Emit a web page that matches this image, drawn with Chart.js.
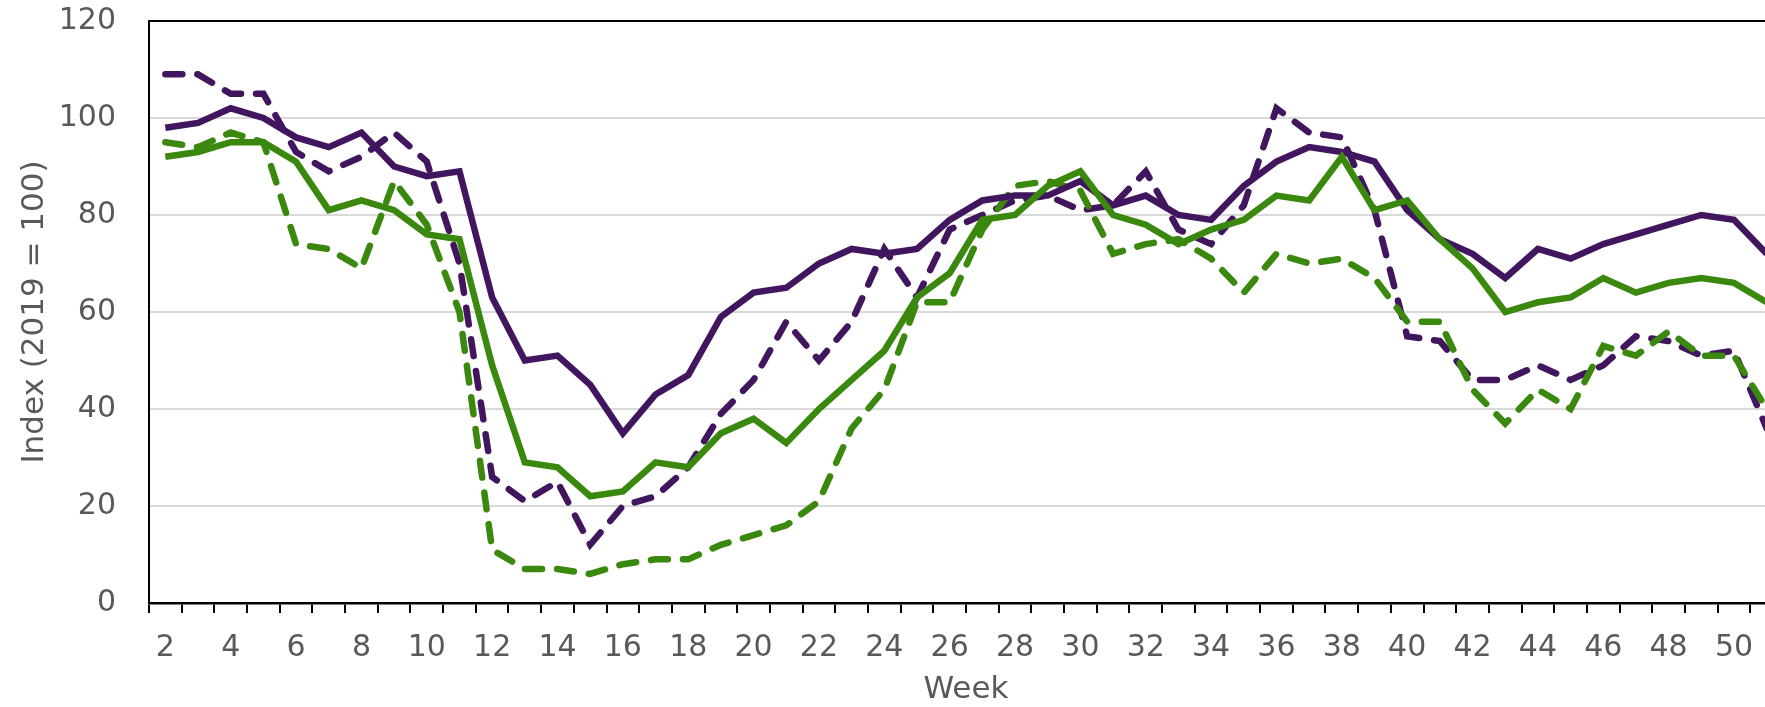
<!DOCTYPE html>
<html>
<head>
<meta charset="utf-8">
<script src="https://cdn.jsdelivr.net/npm/chart.js@4"></script>
<style>
  html, body { margin: 0; padding: 0; background: #fff; overflow: hidden; }
  /* the source chart runs slightly past the right edge of the picture */
  #wrap { position: absolute; left: 0; top: 0; width: 1790px; height: 707px; }
</style>
</head>
<body>
<div id="wrap"><canvas id="myChart"></canvas></div>
<script>
const weeks = [];
for (let w = 2; w <= 51; w++) weeks.push(w);

const purpleSolid = [98, 99, 102, 100, 96, 94, 97, 90, 88, 89, 63, 50, 51, 45, 35, 43, 47, 59, 64, 65,
  70, 73, 72, 73, 79, 83, 84, 84, 87, 82, 84, 80, 79, 86, 91, 94, 93, 91, 81, 75,
  72, 67, 73, 71, 74, 76, 78, 80, 79, 72];
const greenSolid = [92, 93, 95, 95, 91, 81, 83, 81, 76, 75, 49, 29, 28, 22, 23, 29, 28, 35, 38, 33,
  40, 46, 52, 63, 68, 79, 80, 86, 89, 80, 78, 74, 77, 79, 84, 83, 92, 81, 83, 75,
  69, 60, 62, 63, 67, 64, 66, 67, 66, 62];
const purpleDashed = [109, 109, 105, 105, 93, 89, 92, 97, 91, 70, 26, 21, 25, 12, 20, 22, 28, 39, 46, 58,
  50, 58, 73, 63, 77, 80, 83, 84, 81, 82, 89, 77, 74, 82, 102, 97, 96, 81, 55, 54,
  46, 46, 49, 46, 49, 55, 54, 51, 52, 36];
const greenDashed = [95, 94, 97, 95, 74, 73, 69, 87, 78, 60, 11, 7, 7, 6, 8, 9, 9, 12, 14, 16,
  21, 36, 44, 62, 62, 77, 86, 87, 85, 72, 74, 75, 71, 64, 72, 70, 71, 67, 58, 58,
  44, 37, 44, 40, 53, 51, 56, 51, 51, 40];

const yTicks = [0, 20, 40, 60, 80, 100, 120];

const PURPLE = '#42155f';
const GREEN = '#3b880f';
const TEXT = '#595959';
const FONT = 'DejaVu Sans';

const line = (label, data, color, dashed) => ({
  label: label,
  data: data,
  borderColor: color,
  backgroundColor: color,
  borderWidth: 6.5,
  borderDash: dashed ? [17, 15] : [],
  borderCapStyle: dashed ? 'round' : 'butt',
  pointRadius: 0,
  tension: 0,
  fill: false
});

const ctx = document.getElementById('myChart').getContext('2d');
const chart = new Chart(ctx, {
  type: 'line',
  data: {
    labels: weeks,
    datasets: [
      line('Green', greenSolid, GREEN, false),
      line('Purple', purpleSolid, PURPLE, false),
      line('Green (dashed)', greenDashed, GREEN, true),
      line('Purple (dashed)', purpleDashed, PURPLE, true)
    ]
  },
  options: {
    responsive: true,
    maintainAspectRatio: false,
    devicePixelRatio: 1,
    animation: false,
    layout: {
      padding: { left: 0, right: 7, top: 21, bottom: 0 }
    },
    plugins: {
      legend: { display: false },
      tooltip: { enabled: false }
    },
    scales: {
      x: {
        type: 'category',
        offset: true,
        grid: {
          display: true,
          offset: true,
          drawOnChartArea: false,
          drawTicks: true,
          tickLength: 10,
          color: '#000',
          lineWidth: 2
        },
        border: { display: true, color: '#000', width: 2.5 },
        ticks: {
          autoSkip: false,
          maxRotation: 0,
          padding: 17,
          color: TEXT,
          font: { family: FONT, size: 30 },
          callback: (val, idx) => (weeks[idx] % 2 === 0 ? String(weeks[idx]) : '')
        },
        title: {
          display: true,
          text: 'Week',
          color: TEXT,
          font: { family: FONT, size: 31, lineHeight: 1.1 },
          padding: { top: 0, bottom: 0 }
        },
        afterFit: (scale) => { scale.height = 104; scale.paddingLeft = 0; scale.paddingRight = 0; }
      },
      y: {
        min: 0,
        max: 120,
        afterBuildTicks: (scale) => { scale.ticks = yTicks.map(v => ({ value: v })); },
        grid: {
          drawTicks: false,
          color: (c) => (c.tick && c.tick.value === 120 ? '#000' : '#d9d9d9'),
          lineWidth: 2
        },
        border: { display: true, color: '#000', width: 2 },
        ticks: {
          padding: 33,
          color: TEXT,
          font: { family: FONT, size: 30 }
        },
        title: {
          display: true,
          text: 'Index (2019 = 100)',
          color: TEXT,
          font: { family: FONT, size: 31 },
          padding: { top: 16, bottom: 0 }
        },
        afterFit: (scale) => { scale.width = 149; scale.paddingTop = 0; scale.paddingBottom = 0; }
      }
    }
  }
});
</script>
</body>
</html>
